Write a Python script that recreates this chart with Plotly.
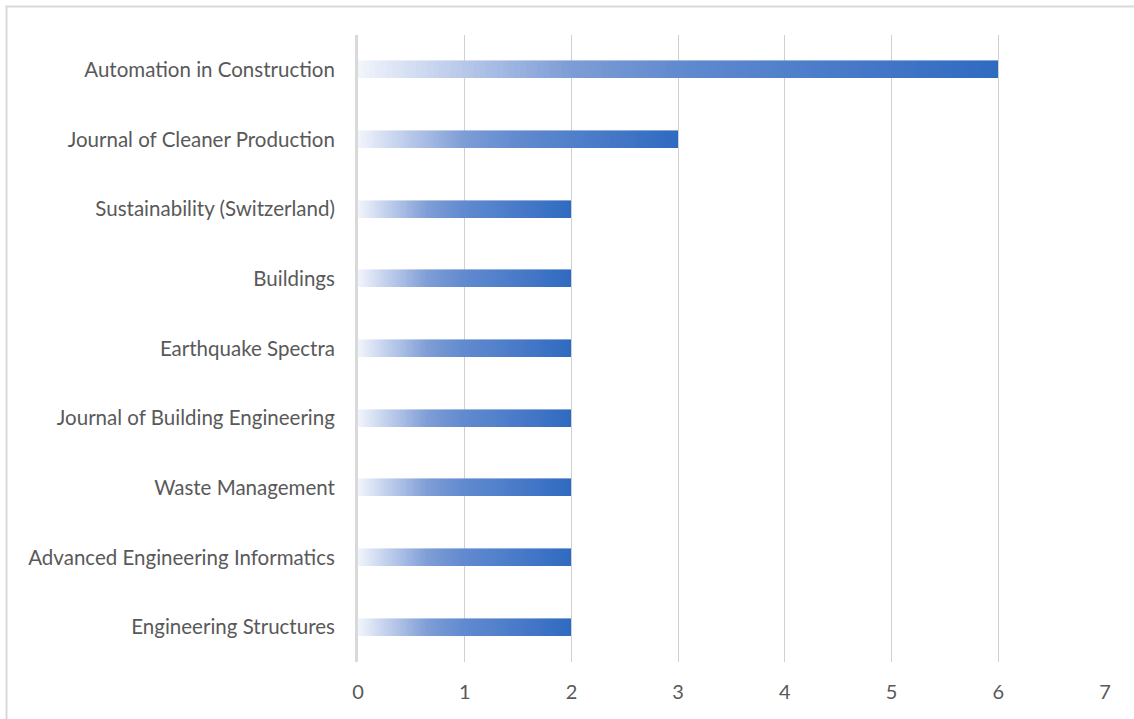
import plotly.graph_objects as go

journals = [
    "Automation in Construction",
    "Journal of Cleaner Production",
    "Sustainability (Switzerland)",
    "Buildings",
    "Earthquake Spectra",
    "Journal of Building Engineering",
    "Waste Management",
    "Advanced Engineering Informatics",
    "Engineering Structures",
]
counts = [6, 3, 2, 2, 2, 2, 2, 2, 2]
x_ticks = [0, 1, 2, 3, 4, 5, 6, 7]

# gradient stops (fraction along each bar -> RGB)
stops = [
    (0.0, (242, 245, 252)),
    (0.17, (182, 199, 233)),
    (0.33, (126, 157, 214)),
    (0.5, (97, 138, 207)),
    (0.67, (81, 128, 203)),
    (0.83, (66, 117, 198)),
    (1.0, (46, 107, 192)),
]


def grad(t):
    for (t0, c0), (t1, c1) in zip(stops[:-1], stops[1:]):
        if t <= t1:
            f = (t - t0) / (t1 - t0)
            return "rgb(%d,%d,%d)" % tuple(round(a + (b - a) * f) for a, b in zip(c0, c1))
    return "rgb(%d,%d,%d)" % stops[-1][1]


N = 110
fig = go.Figure()
for k in range(N):
    col = grad((k + 0.5) / N)
    fig.add_trace(go.Bar(
        y=journals,
        x=[v / N for v in counts],
        orientation="h",
        width=0.245,
        marker=dict(color=col, line=dict(width=0.6, color=col)),
        hoverinfo="skip",
        showlegend=False,
    ))

L, R, T, B = 358, 29, 35, 57
W, H = 1134, 719
pw, ph = W - L - R, H - T - B

fig.update_layout(
    width=W, height=H,
    margin=dict(l=L, r=R, t=T, b=B),
    barmode="stack",
    bargap=0,
    paper_bgcolor="white",
    plot_bgcolor="white",
    font=dict(family="Lato, 'Open Sans', sans-serif", size=20.5, color="#595959"),
    xaxis=dict(
        range=[0, 7], tickvals=x_ticks, showgrid=True, gridcolor="#d0d0d0", gridwidth=1,
        zeroline=False, showline=False, ticks="outside", ticklen=12, tickcolor="rgba(0,0,0,0)",
        tickfont=dict(size=20, color="#595959"), fixedrange=True,
    ),
    yaxis=dict(
        categoryorder="array", categoryarray=journals, autorange="reversed",
        showgrid=False, zeroline=False, showline=True, linecolor="#d9d9d9", linewidth=3,
        ticks="outside", ticklen=16, tickcolor="rgba(0,0,0,0)",
        tickfont=dict(size=20.5, color="#595959"), fixedrange=True,
    ),
    shapes=[dict(
        type="rect", xref="paper", yref="paper",
        x0=(6.5 - L) / pw, x1=(W + 10 - L) / pw,
        y0=(H - B - 6.5) / ph, y1=(H - B - (H + 10)) / ph,
        line=dict(color="#d9d9d9", width=2), fillcolor="rgba(0,0,0,0)", layer="below",
    )],
)

fig.write_html("out.html")
